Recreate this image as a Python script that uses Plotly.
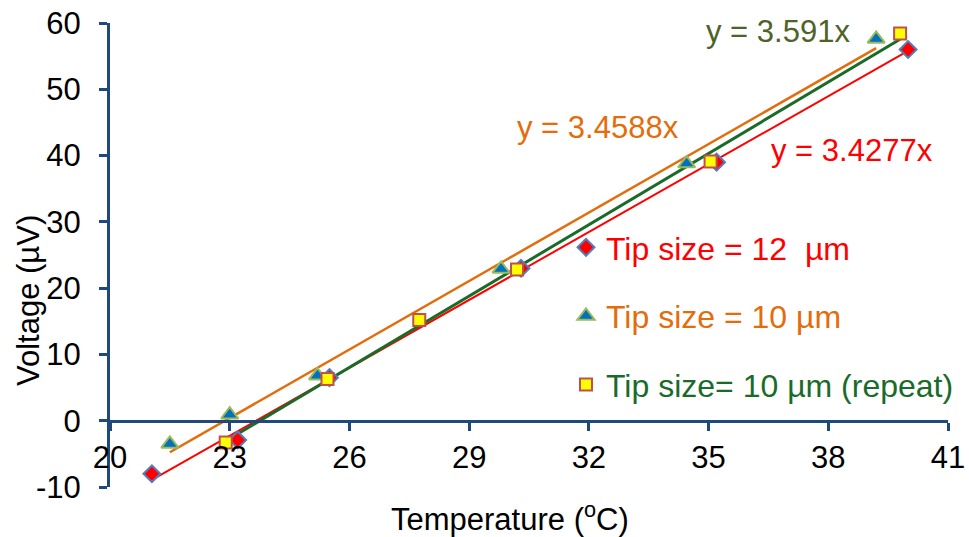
import numpy as np
import plotly.graph_objects as go

# ---- data ----
temp_12 = [21.05, 23.2, 25.5, 30.3, 35.2, 40.0]
volt_12 = [-8.0, -2.9, 6.5, 23.0, 39.0, 56.0]

temp_10 = [21.5, 23.0, 25.2, 29.8, 34.45, 39.2]
volt_10 = [-3.5, 0.9, 6.8, 22.9, 38.8, 57.6]

temp_10r = [22.9, 25.45, 27.75, 30.2, 35.05, 39.8]
volt_10r = [-3.3, 6.3, 15.2, 22.8, 39.1, 58.4]

x_ticks = [20, 23, 26, 29, 32, 35, 38, 41]
y_ticks = [-10, 0, 10, 20, 30, 40, 50, 60]

FONT = "Liberation Sans, Arial, sans-serif"
AXIS_COL = "#1F497D"

RED = "#FF0000"
ORANGE = "#E46C0A"
GREEN = "#1A6B2A"
OLIVE = "#4F6228"

W, H = 969, 537
L, T = 110, 23
R, B = W - 948, H - 487
PW, PH = W - L - R, H - T - B


def px(xp):
    return (xp - L) / PW


def py(yp):
    return (H - B - yp) / PH


def trend(t, v):
    k, b = np.polyfit(t, v, 1)
    xs = np.array([min(t), max(t)])
    return xs, k * xs + b


fig = go.Figure()

# trendlines
for t, v, col, w in [(temp_12, volt_12, RED, 2),
                     (temp_10, volt_10, ORANGE, 2.5),
                     (temp_10r, volt_10r, GREEN, 3)]:
    xs, ys = trend(t, v)
    fig.add_trace(go.Scatter(x=xs, y=ys, mode="lines", showlegend=False,
                             line=dict(color=col, width=w), hoverinfo="skip"))

# markers
fig.add_trace(go.Scatter(
    x=temp_12, y=volt_12, mode="markers", legendgroup="a",
    name=f'<span style="color:{RED}">Tip size = 12  µm</span>',
    marker=dict(symbol="diamond", size=13, color=RED,
                line=dict(color="#4F81BD", width=2))))
fig.add_trace(go.Scatter(
    x=temp_10, y=volt_10, mode="markers", legendgroup="b",
    name=f'<span style="color:{ORANGE}">Tip size = 10 µm</span>',
    marker=dict(symbol="triangle-up", size=15, color="#0070C0",
                line=dict(color="#9BBB59", width=2))))
fig.add_trace(go.Scatter(
    x=temp_10r, y=volt_10r, mode="markers", legendgroup="c",
    name=f'<span style="color:{GREEN}">Tip size= 10 µm (repeat)</span>',
    marker=dict(symbol="square", size=12, color="#FFFF00",
                line=dict(color="#C0504D", width=2))))

annots = [
    dict(x=36.74, y=58.7, text="y = 3.591x", font=dict(color=OLIVE, size=31, family=FONT)),
    dict(x=32.23, y=44.2, text="y = 3.4588x", font=dict(color=ORANGE, size=31, family=FONT)),
    dict(x=38.6, y=40.7, text="y = 3.4277x", font=dict(color=RED, size=31, family=FONT)),
]
for a in annots:
    fig.add_annotation(xref="x", yref="y", showarrow=False,
                       xanchor="center", yanchor="middle", **a)

# axis titles
fig.add_annotation(xref="paper", yref="paper", x=px(510), y=py(517),
                   xanchor="center", yanchor="middle",
                   text="Temperature (<sup>o</sup>C)", showarrow=False,
                   font=dict(size=31, family=FONT, color="black"))
fig.add_annotation(xref="paper", yref="paper", x=px(28), y=py(301),
                   xanchor="center", yanchor="middle",
                   text="Voltage (µV)", textangle=-90, showarrow=False,
                   font=dict(size=31, family=FONT, color="black"))

fig.update_layout(
    template="none",
    width=W, height=H,
    margin=dict(l=L, r=R, t=T, b=B, autoexpand=False),
    paper_bgcolor="white", plot_bgcolor="white",
    font=dict(family=FONT, size=31, color="black"),
    showlegend=True,
    legend=dict(x=px(566), y=py(220), xanchor="left", yanchor="top",
                bgcolor="rgba(0,0,0,0)", borderwidth=0, font=dict(size=32, family=FONT),
                tracegroupgap=24, itemsizing="trace"),
    xaxis=dict(range=[20, 41], tickvals=x_ticks, ticktext=[str(v) for v in x_ticks],
               showgrid=False, zeroline=False, showline=True, linecolor=AXIS_COL,
               linewidth=3, ticks="outside", tickcolor=AXIS_COL, tickwidth=3, ticklen=8,
               anchor="free", position=10 / 70, ticklabelstandoff=0, automargin=False,
               tickfont=dict(size=31, family=FONT, color="black")),
    yaxis=dict(range=[-10, 60], tickvals=y_ticks, ticktext=[str(v) for v in y_ticks],
               showgrid=False, zeroline=False, showline=True, linecolor=AXIS_COL,
               linewidth=3, ticks="outside", tickcolor=AXIS_COL, tickwidth=3, ticklen=8,
               ticklabelstandoff=12, automargin=False,
               tickfont=dict(size=31, family=FONT, color="black")),
)

fig.write_html("out.html", config={"displayModeBar": False},
               post_script="document.body.style.margin='0';")
